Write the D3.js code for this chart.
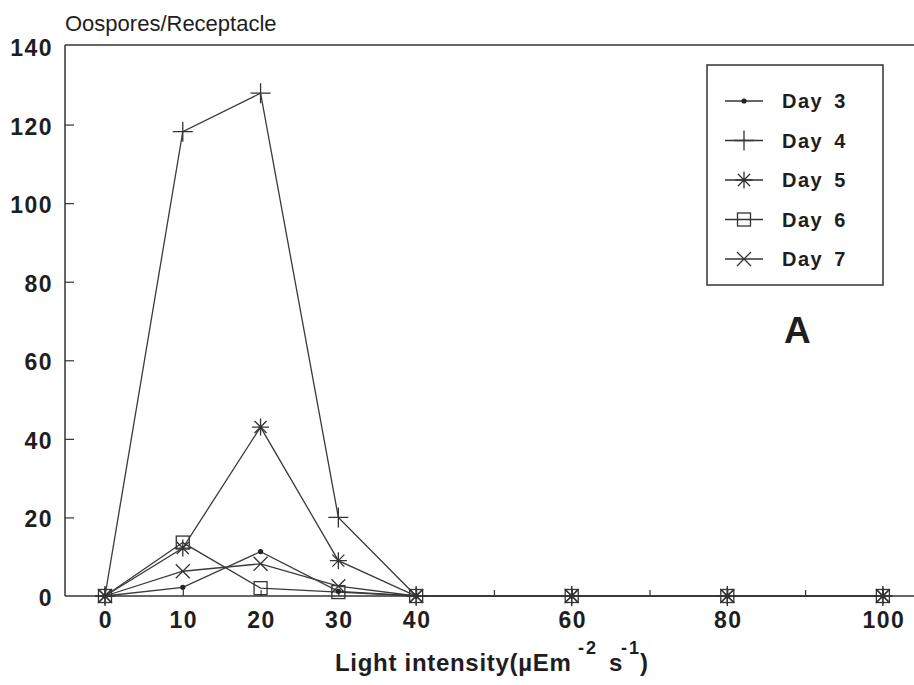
<!DOCTYPE html>
<html>
<head>
<meta charset="utf-8">
<script src="https://cdn.jsdelivr.net/npm/d3@7"></script>
<style>
  html, body { margin: 0; padding: 0; background: #fff; }
  svg { display: block; }
  text { font-family: "Liberation Sans", Arial, sans-serif; fill: #1e1e1e; }
</style>
</head>
<body>
<svg id="chart" width="914" height="685"></svg>
<script>
// ---- data ----
const lightLevels = [0, 10, 20, 30, 40, 60, 80, 100];
const seriesNames = ["Day 3", "Day 4", "Day 5", "Day 6", "Day 7"];
const day3 = [0, 2.2, 11.3, 1.2, 0, 0, 0, 0];
const day4 = [0, 118.2, 128, 20, 0, 0, 0, 0];
const day5 = [0, 12.2, 43, 9, 0, 0, 0, 0];
const day6 = [0, 13.6, 2, 1, 0, 0, 0, 0];
const day7 = [0, 6.3, 8.2, 2.5, 0, 0, 0, 0];
const xTickLabels = [0, 10, 20, 30, 40, 60, 80, 100];
const xMinorTicks = [0, 10, 20, 30, 40, 50, 60, 70, 80, 90, 100];
const yTicks = [0, 20, 40, 60, 80, 100, 120, 140];

const seriesValues = [day3, day4, day5, day6, day7];
const markerTypes = ["dot", "plus", "asterisk", "square", "cross"];

const svg = d3.select("#chart");
const ink = "#333";

const x = d3.scaleLinear().domain([-5.14, 104]).range([65, 914]);
const y = d3.scaleLinear().domain([0, 140]).range([596, 46]);

// ---- frame ----
svg.append("line").attr("x1", x.range()[0]).attr("x2", x.range()[1])
  .attr("y1", y(140) - 1).attr("y2", y(140) - 1).attr("stroke", ink).attr("stroke-width", 1.5);
svg.append("line").attr("x1", x.range()[0]).attr("x2", x.range()[0])
  .attr("y1", y(0)).attr("y2", y(140) - 1).attr("stroke", ink).attr("stroke-width", 1.5);

// x axis
const xAxis = d3.axisBottom(x).tickValues(xMinorTicks).tickSize(-6).tickFormat("");
const gx = svg.append("g").attr("transform", `translate(0,${y(0)})`).call(xAxis);
gx.select(".domain").attr("d", `M${x.range()[0]},0H${x.range()[1]}`).attr("stroke", ink).attr("stroke-width", 1.5);
gx.selectAll(".tick line").attr("stroke", ink).attr("stroke-width", 1.2);
svg.append("g").selectAll("text").data(xTickLabels).join("text")
  .attr("x", d => x(d) + 1).attr("y", 628).attr("text-anchor", "middle")
  .attr("font-size", 23).attr("font-weight", "bold").attr("letter-spacing", 1.5)
  .text(d => d);

// y axis
const yAxis = d3.axisLeft(y).tickValues(yTicks.slice(1, -1)).tickSize(-9).tickFormat("");
const gy = svg.append("g").attr("transform", `translate(${x.range()[0]},0)`).call(yAxis);
gy.select(".domain").remove();
gy.selectAll(".tick line").attr("stroke", ink).attr("stroke-width", 1.2);
svg.append("g").selectAll("text").data(yTicks).join("text")
  .attr("x", 53).attr("y", d => y(d) + 10).attr("text-anchor", "end")
  .attr("font-size", 23).attr("font-weight", "bold").attr("letter-spacing", 1.5)
  .text(d => d);

// titles
svg.append("text").attr("x", 65).attr("y", 31).attr("font-size", 22).text("Oospores/Receptacle");
const xl = svg.append("g").attr("font-weight", "bold");
xl.append("text").attr("x", 335).attr("y", 671).attr("font-size", 24).attr("letter-spacing", 0.7)
  .text("Light intensity(\u00B5Em");
xl.append("text").attr("x", 578).attr("y", 654).attr("font-size", 18).attr("letter-spacing", 2).text("-2");
xl.append("text").attr("x", 609).attr("y", 671).attr("font-size", 24).text("s");
xl.append("text").attr("x", 621).attr("y", 654).attr("font-size", 18).attr("letter-spacing", 2).text("-1");
xl.append("text").attr("x", 640).attr("y", 671).attr("font-size", 24).text(")");

svg.append("text").attr("x", 784).attr("y", 343).attr("font-size", 37).attr("font-weight", "bold").text("A");

// ---- markers ----
function drawMarker(g, type) {
  g.attr("stroke", ink).attr("stroke-width", 1.3).attr("fill", "none");
  if (type === "dot") {
    g.append("circle").attr("r", 2.6).attr("fill", "#222").attr("stroke", "none");
  } else if (type === "plus") {
    g.append("path").attr("d", "M-10,0H10M0,-10V10");
  } else if (type === "asterisk") {
    const r = 8.5;
    let d = "";
    [0, 45, 90, 135].forEach(a => {
      const rad = a * Math.PI / 180, dx = r * Math.cos(rad), dy = r * Math.sin(rad);
      d += `M${-dx},${-dy}L${dx},${dy}`;
    });
    g.append("path").attr("d", d);
  } else if (type === "square") {
    g.append("rect").attr("x", -6.5).attr("y", -6.5).attr("width", 13).attr("height", 13);
  } else if (type === "cross") {
    g.append("path").attr("d", "M-7,-7L7,7M-7,7L7,-7");
  }
}

const line = d3.line().x((d, i) => x(lightLevels[i])).y(d => y(d));
seriesValues.forEach((vals, si) => {
  svg.append("path").attr("d", line(vals)).attr("fill", "none")
    .attr("stroke", "#3a3a3a").attr("stroke-width", 1.3);
});
seriesValues.forEach((vals, si) => {
  svg.append("g").selectAll("g").data(vals).join("g")
    .attr("transform", (d, i) => `translate(${x(lightLevels[i])},${y(d)})`)
    .each(function () { drawMarker(d3.select(this), markerTypes[si]); });
});

// ---- legend ----
const legend = svg.append("g");
legend.append("rect").attr("x", 707).attr("y", 65).attr("width", 176).attr("height", 220)
  .attr("fill", "#fff").attr("stroke", ink).attr("stroke-width", 1.5);
seriesNames.forEach((name, i) => {
  const cy = 101 + i * 39.5;
  legend.append("line").attr("x1", 725).attr("x2", 763).attr("y1", cy).attr("y2", cy)
    .attr("stroke", ink).attr("stroke-width", 1.3);
  drawMarker(legend.append("g").attr("transform", `translate(744,${cy})`), markerTypes[i]);
  legend.append("text").attr("x", 782).attr("y", cy + 7).attr("font-size", 20)
    .attr("font-weight", "bold").attr("letter-spacing", 1.5).attr("word-spacing", 4).text(name);
});
</script>
</body>
</html>
